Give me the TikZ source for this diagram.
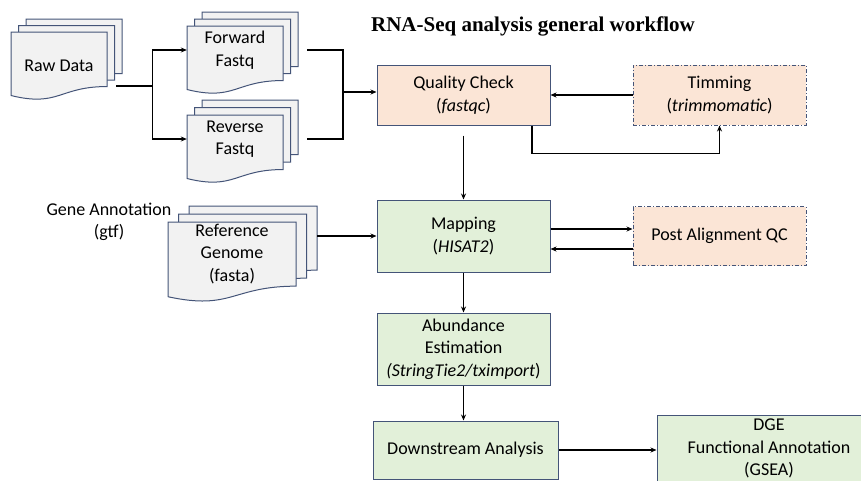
\documentclass[tikz,border=0pt]{standalone}
\usepackage{fontspec}
\setmainfont{Carlito}
\newfontfamily\titlefont{Liberation Serif}
\usetikzlibrary{
    positioning,
    arrows.meta,
    calc
}
\definecolor{borde}{RGB}{68,84,120}
\definecolor{durazno}{HTML}{FBE5D6}
\definecolor{verde}{HTML}{E2F0D9}
\definecolor{hoja}{HTML}{F2F2F2}
\tikzset{
    >=Stealth,
    flow/.style={
        ->,
        line width=1.1pt,
        >={Stealth[length=6pt,width=5pt]}
    },
    enlace/.style={line width=1.1pt},
    caja/.style={
        draw=borde,
        line width=1pt,
        minimum width=173pt,
        align=center,
        inner sep=2pt,
        font=\fontsize{18}{22.5}\selectfont
    },
    qcbox/.style={caja, fill=durazno},
    opcbox/.style={caja, fill=durazno, dash pattern=on 4pt off 2pt on 1pt off 2pt},
    procbox/.style={caja, fill=verde},
    docnode/.style={
        align=center,
        minimum width=96pt,
        inner sep=0pt,
        font=\fontsize{18}{22.5}\selectfont
    },
    docline/.style={draw=borde, fill=hoja, line width=1pt}
}
% hoja tipo documento: izquierda, arriba, ancho, alto
\newcommand{\docsheet}[4]{%
    \draw[docline] ({#1},{#2}) -- ({(#1)+(#3)},{#2})
        -- ({(#1)+(#3)},{(#2)+0.802*(#4)})
        .. controls ({(#1)+0.5*(#3)},{(#2)+0.802*(#4)})
        and ({(#1)+0.5*(#3)},{(#2)+1.108*(#4)})
        .. ({#1},{(#2)+0.934*(#4)}) -- cycle;}
\newcommand{\docstack}[6]{%
    \foreach \k in {2,1,0}{\docsheet{(#1)+\k*(#5)}{(#2)-\k*(#6)}{#3}{#4}}}

\begin{document}
\begin{tikzpicture}[
    x=1pt,
    y=-1pt
]
    \useasboundingbox (0,0) rectangle (861,480);
    \clip (0,0) rectangle (861,480);

    % Titulo
    \node[font=\titlefont\bfseries\fontsize{21}{25}\selectfont, anchor=base]
        (titulo) at (533,31) {RNA-Seq analysis general workflow};

    % Documentos
    \docstack{11}{32}{96}{68}{7.5}{6.5}
    \docstack{187}{26}{96}{68}{7.5}{7}
    \docstack{187}{115}{96}{68}{7.5}{7.5}
    \docstack{168}{222}{128}{80}{10.5}{8}

    \node[docnode] (raw) at (59,66) {Raw Data};
    \node[docnode] (fwd) at (235,50) {Forward\\Fastq};
    \node[docnode] (rev) at (235,139) {Reverse\\Fastq};
    \node[docnode, minimum width=128pt] (ref) at (232,254) {Reference\\Genome\\(fasta)};
    \node[docnode] (gene) at (109,222) {Gene Annotation\\(gtf)};

    % Procesos
    \node[qcbox, minimum height=60pt] (qc) at (463.5,95) {Quality Check\\(\textit{fastqc})};
    \node[opcbox, minimum height=60pt] (trim) at (719.5,95) {Timming\\(\textit{trimmomatic})};
    \node[procbox, minimum height=72pt] (map) at (463.5,236) {Mapping\\(\textit{HISAT2})};
    \node[opcbox, minimum height=59pt] (paqc) at (719.5,236) {Post Alignment QC};
    \node[procbox, minimum height=72pt] (abund) at (463.5,349)
        {Abundance\\Estimation\\\textit{(StringTie2/tximport})};
    \node[procbox, minimum width=185pt, minimum height=58pt] (down) at (465.5,450)
        {Downstream Analysis};
    \node[procbox, minimum width=224pt, minimum height=67pt] (dge) at (769,448.5)
        {DGE\\Functional Annotation\\(GSEA)};

    % Conexiones
    \draw[enlace] ([xshift=9pt,yshift=-20pt]raw.east) -- ++(36,0) coordinate (split);
    \draw[flow] (split) |- (fwd.west);
    \draw[flow] (split) |- (rev.west);

    \coordinate (merge) at (343,92);
    \draw[enlace] ([xshift=24pt]fwd.east) -| (merge);
    \draw[enlace] ([xshift=24pt]rev.east) -| (merge);
    \draw[flow] (merge) -- (merge -| qc.west);

    \draw[flow] (trim) -- (qc);
    \draw[flow] ([xshift=68.5pt]qc.south) -- ++(0,28) -| (trim.south);
    \draw[flow, shorten <=10pt] (qc) -- (map);

    \draw[flow] ($(ref.east |- map.west)+(21,0)$) -- (map.west);
    \draw[flow] ([yshift=7pt]map.east) -- ([yshift=7pt]paqc.west);
    \draw[flow] ([yshift=-13pt]paqc.west) -- ([yshift=-13pt]map.east);

    \draw[flow] (map) -- (abund);
    \draw[flow] (abund.south) -- (abund.south |- down.north);
    \draw[flow] (down.east) -- (down.east -| dge.west);

\end{tikzpicture}
\end{document}
